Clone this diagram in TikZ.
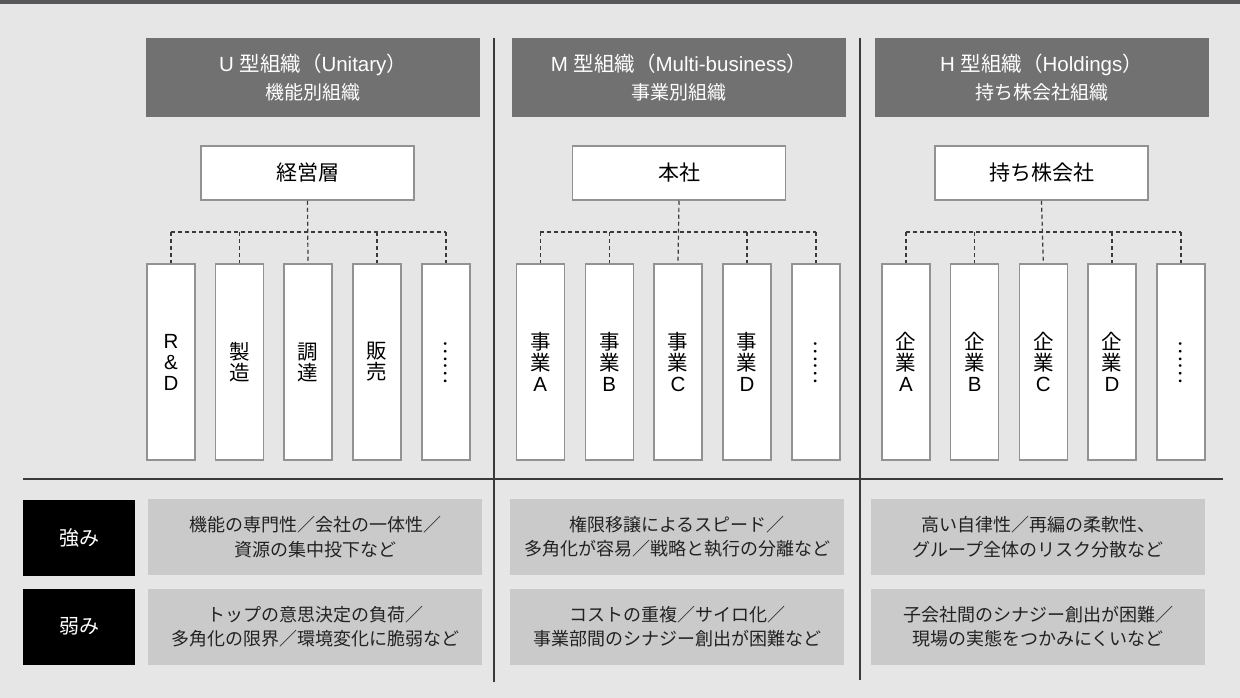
\documentclass[tikz,border=0pt]{standalone}
\usepackage{fontspec}
\setmainfont{Noto Sans CJK JP}
\newfontfamily\lat{Liberation Sans}
\definecolor{bg}{HTML}{E6E6E6}
\definecolor{topbar}{HTML}{58585A}
\definecolor{hdr}{HTML}{717171}
\definecolor{bordergray}{HTML}{929292}
\definecolor{infogray}{HTML}{C9CAC9}
\definecolor{linegray}{HTML}{3A3A3A}
\definecolor{txt}{HTML}{222222}
\tikzset{
  header/.style={fill=hdr, text=white, minimum width=334pt, minimum height=79pt, inner sep=0pt, align=center,
    font=\fontsize{20.5}{28}\selectfont},
  topbox/.style={draw=bordergray, line width=1.5pt, fill=white, minimum width=213pt, minimum height=54pt, inner sep=0pt,
    font=\fontsize{21}{24}\selectfont},
  childbox/.style={draw=bordergray, line width=1.5pt, fill=white, minimum width=48pt, minimum height=196pt, inner sep=0pt,
    align=center, font=\fontsize{20.5}{21}\selectfont},
  conn/.style={draw=linegray, line width=1.2pt, dash pattern=on 4pt off 3pt},
  sepline/.style={draw=linegray, line width=1.5pt},
  labelbox/.style={fill=black, text=white, minimum width=112pt, minimum height=76pt, inner sep=0pt,
    font=\fontsize{20}{24}\selectfont},
  infobox/.style={fill=infogray, text=txt, minimum width=334pt, minimum height=76pt, inner sep=0pt, align=center,
    font=\fontsize{18}{24.5}\selectfont},
}
\newcommand{\subline}[1]{{\fontsize{19}{28}\selectfont #1}}
\newcommand{\vdotsjp}{\rotatebox{-90}{……}}
\newcommand{\la}[1]{{\lat #1}}
\begin{document}
\begin{tikzpicture}[x=1pt,y=-1pt]
\useasboundingbox (0,0) rectangle (1240,698);
\fill[bg] (0,0) rectangle (1240,698);
\fill[topbar] (0,0) rectangle (1240,4.5);

% separators
\draw[sepline] (494,38) -- (494,682);
\draw[sepline] (860,38) -- (860,680);
\draw[sepline] (23,479) -- (1223,479);

% headers
\node[header] (uh) at (313,77.5) {\la{U\ }型組織（\la{Unitary}）\\\subline{機能別組織}};
\node[header] (mh) at (679,77.5) {\la{M\ }型組織（\la{Multi-business}）\\\subline{事業別組織}};
\node[header] (hh) at (1041.5,77.5) {\la{H\ }型組織（\la{Holdings}）\\\subline{持ち株会社組織}};

% top boxes
\node[topbox] (ut) at (307.5,173) {経営層};
\node[topbox] (mt) at (679,173) {本社};
\node[topbox] (ht) at (1041.5,173) {持ち株会社};

% children U
\node[childbox] (u1) at (171,362) {\la{R}\\\la{\&}\\\la{D}};
\node[childbox] (u2) at (239.5,362) {製\\造};
\node[childbox] (u3) at (308,362) {調\\達};
\node[childbox] (u4) at (377,362) {販\\売};
\node[childbox] (u5) at (446,362) {\vdotsjp};
% children M
\node[childbox] (m1) at (540.3,362) {事\\業\\\la{A}};
\node[childbox] (m2) at (609.3,362) {事\\業\\\la{B}};
\node[childbox] (m3) at (678,362) {事\\業\\\la{C}};
\node[childbox] (m4) at (747,362) {事\\業\\\la{D}};
\node[childbox] (m5) at (816,362) {\vdotsjp};
% children H
\node[childbox] (h1) at (906,362) {企\\業\\\la{A}};
\node[childbox] (h2) at (974.7,362) {企\\業\\\la{B}};
\node[childbox] (h3) at (1043.3,362) {企\\業\\\la{C}};
\node[childbox] (h4) at (1112,362) {企\\業\\\la{D}};
\node[childbox] (h5) at (1181,362) {\vdotsjp};

% connectors
\coordinate (uj) at (308,232);
\coordinate (mj) at (678,232);
\coordinate (hj) at (1043.3,232);
\foreach \p/\c in {u/ut, m/mt, h/ht}{
  \draw[conn] (\c.south) -- (\p3.north);
  \draw[conn] (\p1.north |- \p j) -- (\p5.north |- \p j);
  \foreach \i in {1,2,4,5}{
    \draw[conn] (\p\i.north |- \p j) -- (\p\i.north);
  }
}

% strengths / weaknesses
\node[labelbox] (s) at (79,538) {強み};
\node[labelbox] (w) at (79,626.5) {弱み};
\node[infobox] (us) at (315,537) {機能の専門性／会社の一体性／\\資源の集中投下など};
\node[infobox] (uw) at (315,626.5) {トップの意思決定の負荷／\\多角化の限界／環境変化に脆弱など};
\node[infobox] (ms) at (677,537) {権限移譲によるスピード／\\多角化が容易／戦略と執行の分離など};
\node[infobox] (mw) at (677,626.5) {コストの重複／サイロ化／\\事業部間のシナジー創出が困難など};
\node[infobox] (hs) at (1038,537) {高い自律性／再編の柔軟性、\\グループ全体のリスク分散など};
\node[infobox] (hw) at (1038,626.5) {子会社間のシナジー創出が困難／\\現場の実態をつかみにくいなど};
\end{tikzpicture}
\end{document}
